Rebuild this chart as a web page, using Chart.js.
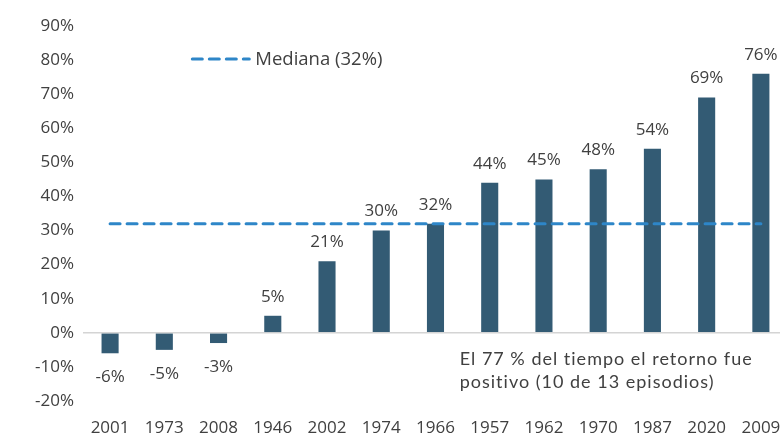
<!DOCTYPE html>
<html>
<head>
<meta charset="utf-8">
<script src="https://cdn.jsdelivr.net/npm/chart.js@4/dist/chart.umd.min.js"></script>
<style>
  html, body { margin: 0; padding: 0; background: #fff; overflow: hidden; }
  #grafico { display: block; }
</style>
</head>
<body>
<canvas id="grafico" width="790" height="436"></canvas>
<script>
const anios = ['2001', '1973', '2008', '1946', '2002', '1974', '1966', '1957', '1962', '1970', '1987', '2020', '2009'];
const retornos = [-6, -5, -3, 5, 21, 30, 32, 44, 45, 48, 54, 69, 76];
const mediana = 32;
const lineaMediana = anios.map(() => mediana);
const textoLeyenda = 'Mediana (32%)';
const nota = ['El 77 % del tiempo el retorno fue', 'positivo (10 de 13 episodios)'];

const colorBarra = '#335b74';
const colorMediana = '#2e86c8';
const colorTexto = '#404040';
const fuente = '"Open Sans", "Noto Sans", sans-serif';

// etiquetas de valor, leyenda y nota
const extras = {
  id: 'extras',
  afterDatasetsDraw(chart) {
    const ctx = chart.ctx;
    const x = chart.scales.x;
    const y = chart.scales.y;
    const meta = chart.getDatasetMeta(1);
    ctx.save();
    ctx.fillStyle = colorTexto;
    ctx.font = '17px ' + fuente;
    ctx.textAlign = 'center';
    ctx.textBaseline = 'middle';
    meta.data.forEach((barra, i) => {
      const v = retornos[i];
      const py = v >= 0 ? barra.y - 19 : barra.y + 24;
      ctx.fillText(v + '%', barra.x, py);
    });

    // leyenda
    const ly = y.getPixelForValue(80);
    const lx = x.getPixelForValue(1) + 28;
    ctx.strokeStyle = colorMediana;
    ctx.lineWidth = 3;
    ctx.lineCap = 'round';
    ctx.setLineDash([10, 7]);
    ctx.beginPath();
    ctx.moveTo(lx, ly - 1);
    ctx.lineTo(lx + 57, ly - 1);
    ctx.stroke();
    ctx.setLineDash([]);
    ctx.textAlign = 'left';
    ctx.font = '18.5px ' + fuente;
    ctx.fillText(textoLeyenda, lx + 63, ly);

    // nota
    ctx.font = '18px Lato, sans-serif';
    ctx.letterSpacing = '1px';
    const nx = x.getPixelForValue(7) - 30;
    ctx.fillText(nota[0], nx, y.getPixelForValue(-7.6));
    ctx.fillText(nota[1], nx, y.getPixelForValue(-14.6));
    ctx.restore();
  }
};

new Chart(document.getElementById('grafico'), {
  data: {
    labels: anios,
    datasets: [
      {
        type: 'line',
        data: lineaMediana,
        borderColor: colorMediana,
        borderWidth: 3,
        borderDash: [10, 7],
        borderCapStyle: 'round',
        pointRadius: 0,
        fill: false,
        order: 0
      },
      {
        type: 'bar',
        data: retornos,
        backgroundColor: colorBarra,
        barPercentage: 0.315,
        categoryPercentage: 1,
        order: 1
      }
    ]
  },
  options: {
    responsive: false,
    animation: false,
    layout: { padding: { top: 26, right: 2, left: 26, bottom: 0 } },
    plugins: {
      legend: { display: false },
      tooltip: { enabled: false }
    },
    scales: {
      x: {
        grid: { display: false },
        border: { display: false },
        ticks: { color: colorTexto, font: { family: fuente, size: 17 }, padding: 9, maxRotation: 0 },
        afterFit(scale) { scale.height = 35; }
      },
      y: {
        min: -20,
        max: 90,
        border: { display: false },
        grid: {
          drawTicks: false,
          color: (c) => (c.tick && c.tick.value === 0 ? '#d4d4d4' : 'rgba(0,0,0,0)'),
          lineWidth: 1.5
        },
        ticks: {
          stepSize: 10,
          color: colorTexto,
          font: { family: fuente, size: 17 },
          padding: 9,
          callback: (v) => v + '%'
        }
      }
    }
  },
  plugins: [extras]
});
</script>
</body>
</html>
